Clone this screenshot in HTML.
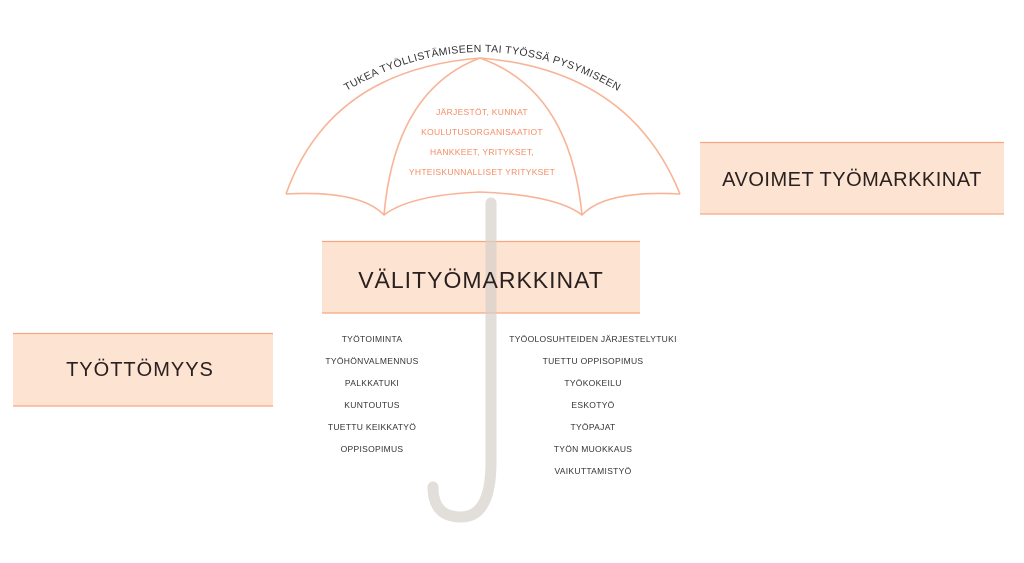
<!DOCTYPE html>
<html><head><meta charset="utf-8"><style>
body{margin:0;background:#fff;}
svg{display:block;font-family:"Liberation Sans",sans-serif;}
</style></head><body>
<svg width="1024" height="563" viewBox="0 0 1024 563">
<g>
<rect x="322" y="241" width="318" height="72" fill="#fde3d1"/>
<line x1="322" y1="241.5" x2="640" y2="241.5" stroke="#f6a77f" stroke-width="1.2"/>
<line x1="322" y1="313" x2="640" y2="313" stroke="#f6a77f" stroke-width="1.2"/>
<rect x="13" y="333" width="260" height="73" fill="#fde3d1"/>
<line x1="13" y1="333.5" x2="273" y2="333.5" stroke="#f6a77f" stroke-width="1.2"/>
<line x1="13" y1="406" x2="273" y2="406" stroke="#f6a77f" stroke-width="1.2"/>
<rect x="700" y="142" width="304" height="72" fill="#fde3d1"/>
<line x1="700" y1="142.5" x2="1004" y2="142.5" stroke="#f6a77f" stroke-width="1.2"/>
<line x1="700" y1="214" x2="1004" y2="214" stroke="#f6a77f" stroke-width="1.2"/>
</g>
<path d="M491 203 L491 462 Q491 517 461 517 Q433 517 433 487" fill="none" stroke="#d6d0ca" stroke-opacity="0.7" stroke-width="11" stroke-linecap="round"/>
<g fill="none" stroke="#f8b497" stroke-width="1.6">
<path d="M286 194 Q330 70 480 58 Q630 70 680 194"/>
<path d="M480 58 Q395 90 384 215"/>
<path d="M480 58 Q570 90 582 215"/>
<path d="M286 194 Q360 190 384 215 Q410 195 480 192 Q556 195 582 215 Q605 190 680 194"/>
</g>
<defs><path id="arc" d="M320 108 Q480 -4 645 108"/></defs>
<text font-size="10.5" fill="#333" letter-spacing="0.4"><textPath href="#arc" startOffset="50%" text-anchor="middle">TUKEA TYÖLLISTÄMISEEN TAI TYÖSSÄ PYSYMISEEN</textPath></text>
<g font-size="8.5" fill="#f48d64" text-anchor="middle" letter-spacing="0.3">
<text x="482" y="115">JÄRJESTÖT,  KUNNAT</text>
<text x="482" y="135">KOULUTUSORGANISAATIOT</text>
<text x="482" y="155">HANKKEET, YRITYKSET,</text>
<text x="482" y="175">YHTEISKUNNALLISET  YRITYKSET</text>
</g>
<g fill="#2a2020" text-anchor="middle">
<text x="481" y="288" font-size="23" letter-spacing="1">VÄLITYÖMARKKINAT</text>
<text x="140" y="376" font-size="20" letter-spacing="1">TYÖTTÖMYYS</text>
<text x="852" y="186" font-size="20" letter-spacing="0.5">AVOIMET TYÖMARKKINAT</text>
</g>
<g font-size="8.5" fill="#333" text-anchor="middle" letter-spacing="0.3">
<text x="372" y="342">TYÖTOIMINTA</text>
<text x="372" y="364">TYÖHÖNVALMENNUS</text>
<text x="372" y="386">PALKKATUKI</text>
<text x="372" y="408">KUNTOUTUS</text>
<text x="372" y="430">TUETTU KEIKKATYÖ</text>
<text x="372" y="452">OPPISOPIMUS</text>
<text x="593" y="342">TYÖOLOSUHTEIDEN JÄRJESTELYTUKI</text>
<text x="593" y="364">TUETTU OPPISOPIMUS</text>
<text x="593" y="386">TYÖKOKEILU</text>
<text x="593" y="408">ESKOTYÖ</text>
<text x="593" y="430">TYÖPAJAT</text>
<text x="593" y="452">TYÖN MUOKKAUS</text>
<text x="593" y="474">VAIKUTTAMISTYÖ</text>
</g>
</svg>
</body></html>
